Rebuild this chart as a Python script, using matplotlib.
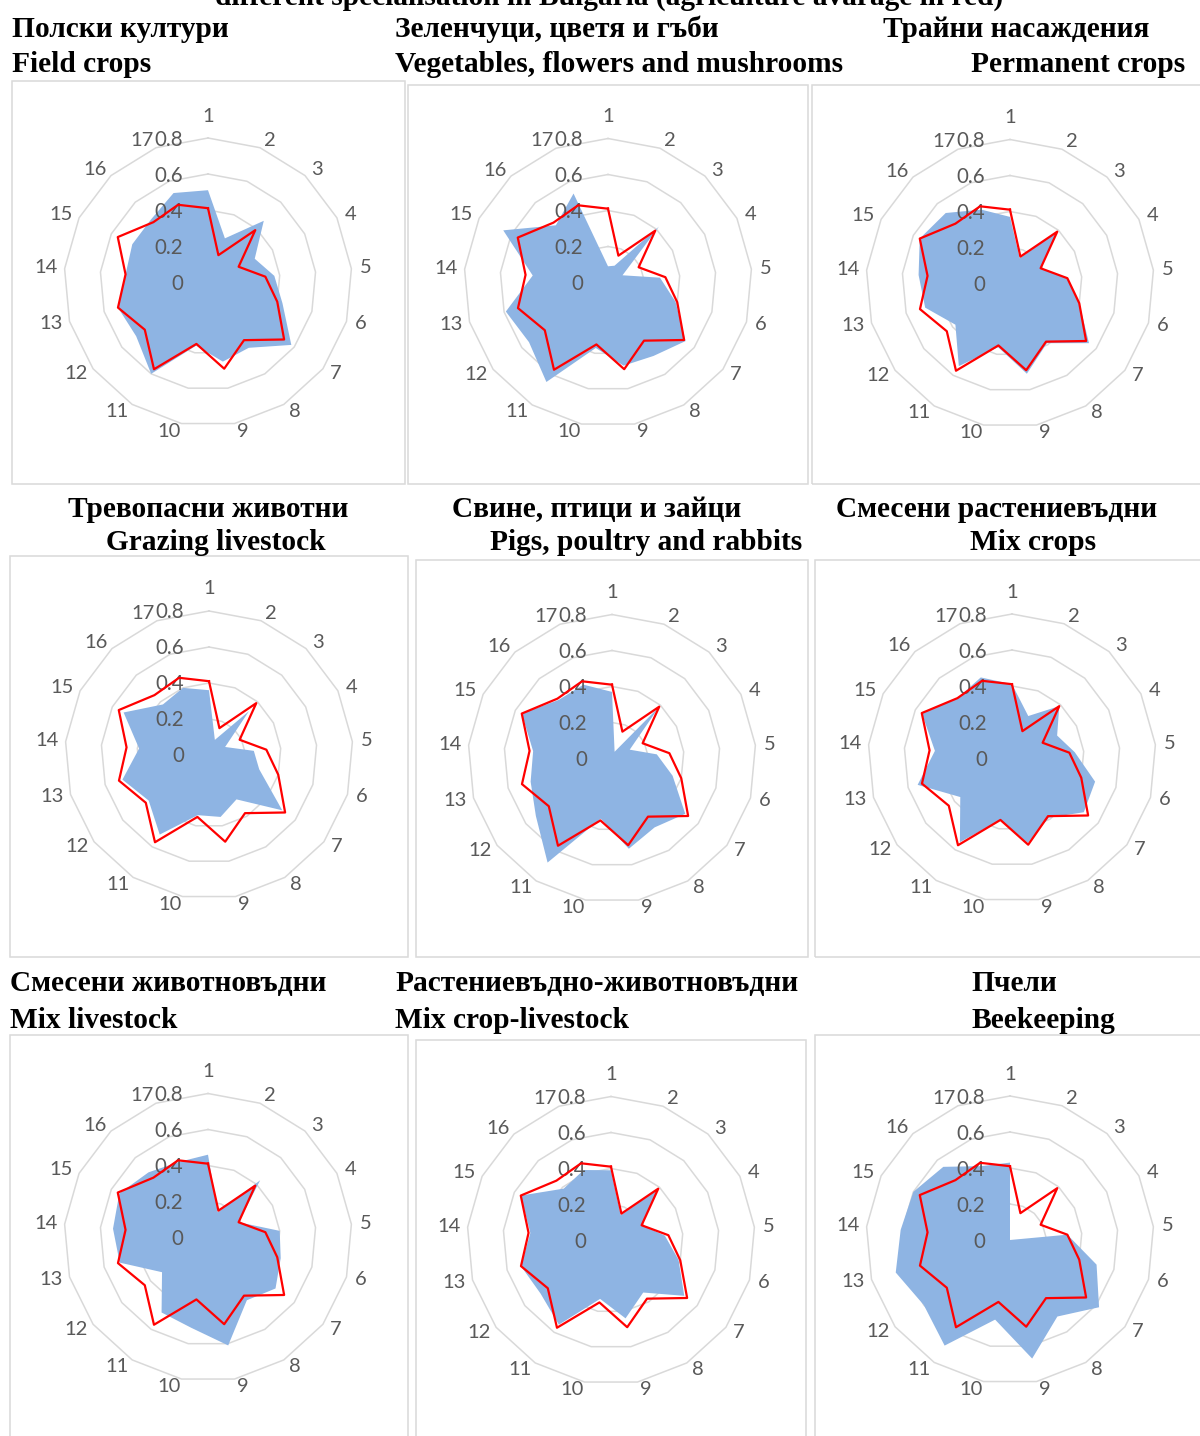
import numpy as np
import matplotlib.pyplot as plt
from matplotlib.patches import Rectangle

W, H = 1200, 1436

categories = [str(i) for i in range(1, 18)]
radial_ticks = [0, 0.2, 0.4, 0.6, 0.8]

# agriculture average (red line, identical in every panel)
agri_avg = [0.41, 0.16, 0.39, 0.19, 0.32, 0.40, 0.53, 0.38, 0.49,
            0.35, 0.57, 0.44, 0.52, 0.46, 0.56, 0.45, 0.46]

field_crops = [0.51, 0.26, 0.46, 0.29, 0.37, 0.43, 0.58, 0.43, 0.45,
               0.36, 0.60, 0.50, 0.52, 0.46, 0.47, 0.47, 0.53]
vegetables = [0.09, 0.10, 0.42, 0.09, 0.29, 0.39, 0.54, 0.48, 0.47,
              0.37, 0.65, 0.55, 0.59, 0.42, 0.65, 0.43, 0.53]
permanent = [0.37, 0.15, 0.39, 0.19, 0.32, 0.40, 0.55, 0.39, 0.51,
             0.36, 0.54, 0.38, 0.49, 0.51, 0.56, 0.53, 0.44]
grazing = [0.36, 0.09, 0.33, 0.10, 0.25, 0.29, 0.51, 0.29, 0.35,
           0.34, 0.52, 0.42, 0.50, 0.39, 0.53, 0.38, 0.40]
pigs_poultry = [0.37, 0.04, 0.39, 0.11, 0.25, 0.35, 0.51, 0.45, 0.51,
                0.34, 0.68, 0.53, 0.47, 0.44, 0.56, 0.44, 0.44]
mix_crops = [0.41, 0.25, 0.39, 0.28, 0.35, 0.48, 0.50, 0.39, 0.48,
             0.35, 0.55, 0.36, 0.545, 0.43, 0.56, 0.45, 0.48]
mix_livestock = [0.46, 0.15, 0.43, 0.19, 0.40, 0.42, 0.47, 0.41, 0.61,
                 0.51, 0.49, 0.32, 0.51, 0.53, 0.55, 0.49, 0.45]
mix_crop_livestock = [0.39, 0.15, 0.38, 0.19, 0.30, 0.39, 0.51, 0.34, 0.44,
                      0.33, 0.55, 0.49, 0.52, 0.45, 0.56, 0.39, 0.42]
beekeeping = [0.43, 0.0, 0.30, 0.0, 0.32, 0.50, 0.62, 0.50, 0.67,
              0.45, 0.69, 0.60, 0.66, 0.61, 0.60, 0.55, 0.44]

titles_bg = ['Полски култури', 'Зеленчуци, цветя и гъби', 'Трайни насаждения',
             'Тревопасни животни', 'Свине, птици и зайци', 'Смесени растениевъдни',
             'Смесени животновъдни', 'Растениевъдно-животновъдни', 'Пчели']
titles_en = ['Field crops', 'Vegetables, flowers and mushrooms', 'Permanent crops',
             'Grazing livestock', 'Pigs, poultry and rabbits', 'Mix crops',
             'Mix livestock', 'Mix crop-livestock', 'Beekeeping']
series = [field_crops, vegetables, permanent, grazing, pigs_poultry,
          mix_crops, mix_livestock, mix_crop_livestock, beekeeping]

# layout in pixels: radar centre, box (x0, y0, x1, y1), title lines (x, baseline)
centres = [(208, 282), (608, 282.5), (1010, 283.5),
           (209, 755), (612, 758.5), (1012, 758),
           (208, 1237.5), (611, 1240.5), (1010, 1240)]
boxes = [(12, 81, 405, 484), (408, 85, 808, 484), (812, 85, 1210, 484),
         (10, 556, 408, 957), (416, 560, 808, 957), (815, 560, 1210, 957),
         (10, 1035, 408, 1446), (416, 1040, 806, 1446), (815, 1035, 1210, 1446)]
title_pos = [((12, 37), (12, 72)), ((395, 37), (395, 72)), ((883, 37), (971, 72)),
             ((68, 517), (106, 550)), ((452, 517), (490, 550)), ((836, 517), (970, 550)),
             ((10, 991), (10, 1028)), ((395, 991), (395, 1028)), ((971, 991), (971, 1028))]
R = 144  # pixel radius of the 0.8 ring

plt.rcParams['font.family'] = ['Lato', 'DejaVu Sans']
fig = plt.figure(figsize=(W / 100, H / 100), dpi=100)

GRID = '#D9D9D9'
TXT = '#595959'
BLUE = '#8EB4E3'
serif = ['Liberation Serif', 'DejaVu Serif']
TITLE_SIZE = 21.2


def px(x, y):
    return x / W, 1 - y / H


def radar(cx, cy, values):
    ax = fig.add_axes([(cx - R) / W, 1 - (cy + R) / H, 2 * R / W, 2 * R / H],
                      projection='polar')
    n = len(categories)
    ang = 2 * np.pi * np.arange(n) / n
    ang_c = np.append(ang, ang[0])
    ax.set_theta_zero_location('N')
    ax.set_theta_direction(-1)
    ax.set_ylim(0, radial_ticks[-1])
    ax.grid(False)
    ax.set_xticks([])
    ax.set_yticks([])
    ax.spines['polar'].set_visible(False)
    ax.patch.set_alpha(0)

    for v in radial_ticks[1:]:
        ax.plot(ang_c, [v] * (n + 1), color=GRID, lw=1.1, zorder=1, clip_on=False)
    ax.fill(ang, values, facecolor=BLUE, edgecolor='none', lw=0, zorder=2)

    for v in radial_ticks:
        ax.annotate(f'{v:g}', xy=(0, v), xytext=(-25 * 0.72, -1.5 * 0.72),
                    textcoords='offset points', ha='right', va='center',
                    fontsize=14.8, color=TXT, zorder=5, annotation_clip=False)

    for a, lab in zip(ang, categories):
        s, c = np.sin(a), np.cos(a)
        w = 9 if len(lab) == 1 else 18
        dx = 8 * s + np.sign(np.round(s, 6)) * (w / 2 + 2)
        dy = 8 * c + (14 if lab == '1' else 0)
        ax.annotate(lab, xy=(a, radial_ticks[-1]), xytext=(dx * 0.72, dy * 0.72),
                    textcoords='offset points', ha='center', va='center',
                    fontsize=14.5, color=TXT, annotation_clip=False)

    ax.plot(ang_c, np.append(agri_avg, agri_avg[0]), color='#FF0000', lw=1.6,
            zorder=6, clip_on=False)
    return ax


for (x0, y0, x1, y1) in boxes:
    fig.add_artist(Rectangle(px(x0, y1), (x1 - x0) / W, (y1 - y0) / H,
                             transform=fig.transFigure, fill=False,
                             ec=GRID, lw=1.1))

for (cx, cy), vals in zip(centres, series):
    radar(cx, cy, vals)

for tb, te, ((xb, yb), (xe, ye)) in zip(titles_bg, titles_en, title_pos):
    fig.text(*px(xb, yb), tb, ha='left', va='baseline', fontsize=TITLE_SIZE,
             fontweight='bold', family=serif)
    fig.text(*px(xe, ye), te, ha='left', va='baseline', fontsize=TITLE_SIZE,
             fontweight='bold', family=serif)

# second line of the page heading, its upper part runs off the top edge
fig.text(*px(609, 5), 'different specialisation in Bulgaria (agriculture avarage in red)',
         ha='center', va='baseline', fontsize=TITLE_SIZE, fontweight='bold', family=serif)

fig.savefig('out.png', dpi=100)
